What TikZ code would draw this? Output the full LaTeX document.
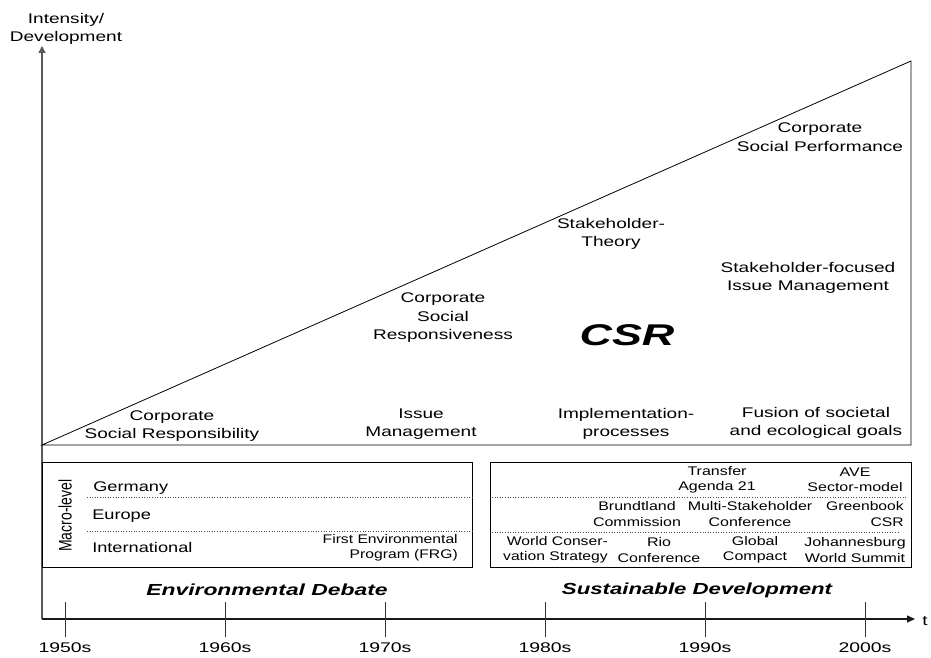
\documentclass[tikz,border=0pt]{standalone}
\usepackage{fontspec}
\setmainfont{Liberation Sans}
\usetikzlibrary{arrows.meta}
\begin{document}
\begin{tikzpicture}[x=1pt,y=-1pt,
  txt/.style={font=\fontsize{14}{18.5}\selectfont,align=center,inner sep=0pt,xscale=1.36},
  btxt/.style={font=\fontsize{12.5}{15.5}\selectfont,align=center,inner sep=0pt,xscale=1.28},
  ltxt/.style={font=\fontsize{14}{17}\selectfont,inner sep=0pt,xscale=1.3,anchor=base west},
  vaxis/.style={line width=1.3pt,draw=black!65,-{Triangle[length=7pt,width=7pt]}},
  haxis/.style={line width=1.1pt,draw=black!90,-{Triangle[length=8pt,width=7pt]}},
  tick/.style={line width=0.7pt,draw=black!80},
  frame/.style={draw=black,line width=0.8pt},
  sep/.style={dotted,line width=0.6pt,draw=black!70}]
\useasboundingbox (0,0) rectangle (931,658);
% axes
\coordinate (O) at (42,619);
\coordinate (ytop) at (42,46);
\coordinate (xend) at (915,619);
\draw[vaxis] (O) -- (ytop);
\draw[haxis] (O) -- (xend);
\node[txt] (ylab) at (66,29) {Intensity/\\Development};
\node[txt,xscale=1] (tlab) at (925,621) {t};
% triangle
\coordinate (A) at (42,445);
\coordinate (B) at (911,445);
\coordinate (C) at (911,61);
\draw[line width=0.8pt] (A) -- (C) -- (B) -- cycle;
% ticks and decades
\foreach \x/\l in {65/1950s,225/1960s,385/1970s,545/1980s,705/1990s,865/2000s}{
  \coordinate (t\l a) at (\x,602);
  \coordinate (t\l b) at (\x,637);
  \draw[tick] (t\l a) -- (t\l b);
  \node[txt,xscale=1.02] (d\l) at (\x,648) {\l};
}
\node[txt,font=\fontsize{16}{18}\selectfont\bfseries\itshape,xscale=1.05] (env) at (267,590) {Environmental Debate};
\node[txt,font=\fontsize{16}{18}\selectfont\bfseries\itshape,xscale=1.02] (sus) at (697,590) {Sustainable Development};
% upper texts
\node[txt] (csr1) at (172,426) {Corporate\\Social Responsibility};
\node[txt] (im) at (421,424) {Issue\\Management};
\node[txt] (impl) at (626,424) {Implementation-\\processes};
\node[txt] (fus) at (816,423) {Fusion of societal\\and ecological goals};
\node[txt] (resp) at (443,318) {Corporate\\Social\\Responsiveness};
\node[txt,font=\fontsize{30}{34}\selectfont\bfseries\itshape,xscale=1.1] (CSR) at (627,335) {CSR};
\node[txt] (sth) at (611,234) {Stakeholder-\\Theory};
\node[txt] (sfim) at (808,278) {Stakeholder-focused\\Issue Management};
\node[txt] (csp) at (820,137) {Corporate\\Social Performance};
% left box
\coordinate (lb1) at (42,462.5); \coordinate (lb2) at (472,567);
\draw[frame] (lb1) rectangle (lb2);
\coordinate (l1a) at (87,497.5); \coordinate (l1b) at (472,497.5);
\coordinate (l2a) at (87,531.5); \coordinate (l2b) at (472,531.5);
\draw[sep] (l1a) -- (l1b);
\draw[sep] (l2a) -- (l2b);
\node[font=\fontsize{14}{17}\selectfont,inner sep=0pt,xscale=1.3,rotate=90] (macro) at (65,515.5) {Macro-level};
\node[ltxt] (ger) at (93,491) {Germany};
\node[ltxt] (eur) at (92,519) {Europe};
\node[ltxt] (int) at (92,552) {International};
\node[btxt,align=right,anchor=east,xscale=0.98] (fep) at (458,548) {First Environmental\\Program (FRG)};
% right box
\coordinate (rb1) at (490,462.5); \coordinate (rb2) at (911,567);
\draw[frame] (rb1) rectangle (rb2);
\coordinate (r1a) at (492,497); \coordinate (r1b) at (907,497);
\coordinate (r2a) at (492,532); \coordinate (r2b) at (898,532);
\draw[sep] (r1a) -- (r1b);
\draw[sep] (r2a) -- (r2b);
\node[btxt] (tra) at (717,480) {Transfer\\Agenda 21};
\node[btxt] (ave) at (855,480) {AVE\\Sector-model};
\node[btxt] (bru) at (637,514) {Brundtland\\Commission};
\node[btxt] (msc) at (750,514) {Multi-Stakeholder\\Conference};
\node[btxt,align=right,anchor=east,xscale=0.98] (gre) at (904,514) {Greenbook\\CSR};
\node[btxt,align=right,anchor=east,xscale=0.98] (wcs) at (608,550) {World Conser-\\vation Strategy};
\node[btxt] (rio) at (659,550) {Rio\\Conference};
\node[btxt] (gc) at (755,550) {Global\\Compact};
\node[btxt] (jws) at (855,550) {Johannesburg\\World Summit};
\end{tikzpicture}
\end{document}
